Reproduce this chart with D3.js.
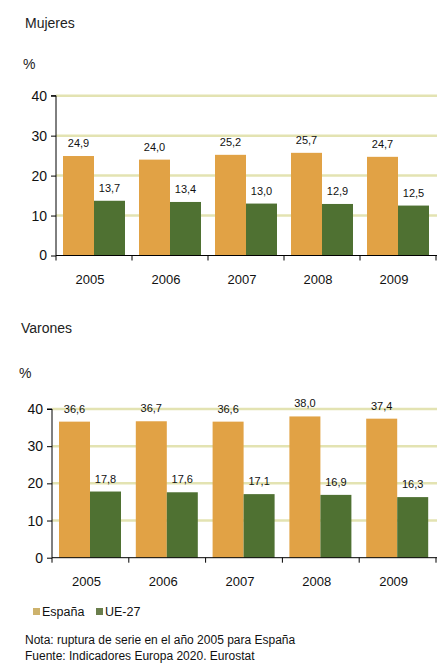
<!DOCTYPE html>
<html>
<head>
<meta charset="utf-8">
<script src="https://cdn.jsdelivr.net/npm/d3@7"></script>
<style>
  html, body { margin: 0; padding: 0; background: #ffffff; }
  svg { display: block; font-family: Arial, "Liberation Sans", sans-serif; }
</style>
</head>
<body>
<svg id="chart" width="437" height="664"></svg>
<script>
// ---- data ----
const years = ["2005", "2006", "2007", "2008", "2009"];
const seriesNames = ["España", "UE-27"];
const mujeresEspana = [24.9, 24.0, 25.2, 25.7, 24.7];
const mujeresUE = [13.7, 13.4, 13.0, 12.9, 12.5];
const varonesEspana = [36.6, 36.7, 36.6, 38.0, 37.4];
const varonesUE = [17.8, 17.6, 17.1, 16.9, 16.3];
const yTicks = [0, 10, 20, 30, 40];
const panelTitles = ["Mujeres", "Varones"];
const notes = ["Nota: ruptura de serie en el año 2005 para España",
               "Fuente: Indicadores Europa 2020. Eurostat"];

const barColors = ["#E1A245", "#4F7132"];
const legendColors = ["#CDB26C", "#6A7E4C"];
const gridColor = "#E3E3B2";

const svg = d3.select("#chart");

function fmt(v) { return v.toFixed(1).replace(".", ","); }

function panel(cfg) {
  const g = svg.append("g");
  const x = d3.scaleBand().domain(years).range([cfg.x0, 436]);
  const xs = d3.scaleBand().domain(seriesNames).range([7, 69]);
  const y = d3.scaleLinear().domain([0, 40]).range([cfg.yBottom, cfg.yTop]);

  // title and unit
  g.append("text").attr("x", cfg.titleX).attr("y", cfg.titleY)
    .attr("font-size", 14).attr("fill", "#222").text(cfg.title);
  g.append("text").attr("x", cfg.titleX - 2).attr("y", cfg.unitY)
    .attr("font-size", 14).attr("fill", "#222").text("%");

  // grid lines
  g.append("g").selectAll("line").data(yTicks.filter(d => d > 0)).join("line")
    .attr("x1", cfg.x0).attr("x2", 437)
    .attr("y1", d => y(d)).attr("y2", d => y(d))
    .attr("stroke", gridColor).attr("stroke-width", 2.5);

  // bars
  const data = years.map((yr, i) => ({ year: yr, vals: [cfg.esp[i], cfg.ue[i]] }));
  const grp = g.append("g").selectAll("g").data(data).join("g")
    .attr("transform", d => `translate(${x(d.year)},0)`);
  grp.selectAll("rect").data(d => d.vals.map((v, k) => ({ k, v }))).join("rect")
    .attr("x", d => xs(seriesNames[d.k]))
    .attr("width", xs.bandwidth())
    .attr("y", d => y(d.v))
    .attr("height", d => y(0) - y(d.v))
    .attr("fill", d => barColors[d.k]);
  grp.selectAll("text").data(d => d.vals.map((v, k) => ({ k, v }))).join("text")
    .attr("x", d => xs(seriesNames[d.k]) + xs.bandwidth() / 2)
    .attr("y", d => y(d.v) - 9)
    .attr("text-anchor", "middle")
    .attr("font-size", 11).attr("fill", "#111")
    .text(d => fmt(d.v));

  // y axis
  const ya = g.append("g").attr("transform", `translate(${cfg.x0},0)`)
    .call(d3.axisLeft(y).tickValues(yTicks).tickSize(5).tickPadding(4).tickFormat(d3.format("d")));
  ya.select(".domain").attr("stroke", "#000").attr("d", `M-5,${y(40)}H0V${y(0)}`);
  ya.selectAll(".tick line").attr("stroke", "#000");
  ya.selectAll(".tick text").attr("font-size", 14).attr("fill", "#111")
    .attr("font-family", "Arial, 'Liberation Sans', sans-serif");

  // x axis
  const xa = g.append("g").attr("transform", `translate(0,${y(0)})`)
    .call(d3.axisBottom(x).tickSize(0).tickPadding(19));
  xa.select(".domain").attr("stroke", "#000").attr("d", `M${cfg.x0},0H437`);
  xa.selectAll(".tick text").attr("font-size", 13).attr("fill", "#111")
    .attr("dx", -4)
    .attr("font-family", "Arial, 'Liberation Sans', sans-serif");
  const bounds = years.map(yr => x(yr)).concat([x.range()[1]]);
  xa.append("g").selectAll("line").data(bounds).join("line")
    .attr("x1", d => d).attr("x2", d => d).attr("y1", 0).attr("y2", 5)
    .attr("stroke", "#000");
}

panel({ title: panelTitles[0], titleX: 25, titleY: 28, unitY: 69,
        x0: 56, yTop: 95.7, yBottom: 255.5, esp: mujeresEspana, ue: mujeresUE });
panel({ title: panelTitles[1], titleX: 21, titleY: 333, unitY: 378,
        x0: 52, yTop: 409, yBottom: 557.7, esp: varonesEspana, ue: varonesUE });

// legend
const lg = svg.append("g");
const legX = [33, 96];
seriesNames.forEach((s, i) => {
  lg.append("rect").attr("x", legX[i]).attr("y", 608).attr("width", 7).attr("height", 7)
    .attr("fill", legendColors[i]);
  lg.append("text").attr("x", legX[i] + 9).attr("y", 616)
    .attr("font-size", 12.5).attr("fill", "#111").text(s);
});

// notes
svg.append("g").selectAll("text").data(notes).join("text")
  .attr("x", 25).attr("y", (d, i) => 644 + i * 15.5)
  .attr("font-size", 12).attr("fill", "#111").text(d => d);
</script>
</body>
</html>
